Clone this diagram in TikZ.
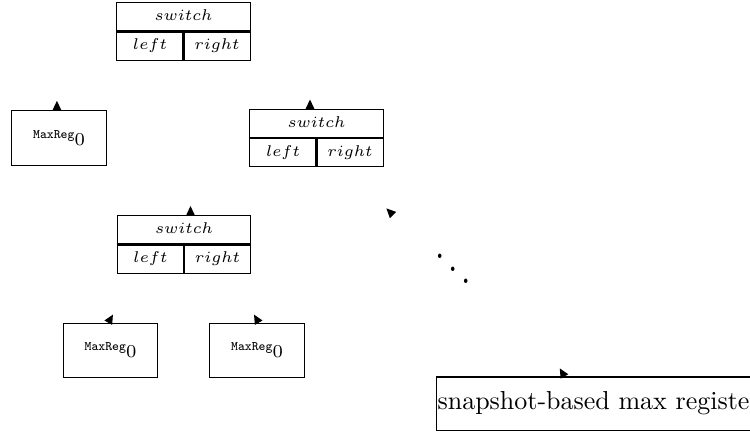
\documentclass[tikz,border=0pt]{standalone}
\usepackage{amsmath}
\usetikzlibrary{shapes.multipart, calc}

% top cell and the two bottom cells of a switch
\newcommand{\swparts}{$switch$\strut\nodepart{two}\makebox[25.75pt]{$left$}\makebox[25.75pt]{$right$}\strut}
\newcommand{\maxreg}{{\tiny\texttt{MaxReg}}\raisebox{-2.6pt}{\scriptsize 0}}

\begin{document}
\begin{tikzpicture}[x=0.3846pt, y=0.3846pt,
		swnode/.style={rectangle split, rectangle split parts=2, draw, font=\fontsize{6}{7.2}\selectfont,
			text width=51.5pt, align=center, inner xsep=0pt, inner ysep=1.7pt},
		regnode/.style={draw, minimum width=36.5pt, minimum height=21pt, inner sep=0pt},
		divide/.style={line width=0.8pt}]
			\useasboundingbox (0,-432) rectangle (750,0);
			\node[swnode] (s0) at (183.5,-31.5) {\swparts};
			\node[regnode] (r0) at (59,-138) {\maxreg};
			\node[swnode] (s1) at (316.5,-138) {\swparts};
			\coordinate (s1r) at (393,-215);
			\node[swnode] (s2) at (184,-244.5) {\swparts};
			\node[regnode] (r1) at (110.5,-350.5) {\maxreg};
			\node[regnode] (r2) at (257,-350.5) {\maxreg};
			\node[xscale=1.3, yscale=1.6, anchor=base] (dots) at (453,-288) {$\ddots$};
			\node[draw, anchor=west, minimum height=20.4pt, inner xsep=0.4pt] (snap) at (436,-403.5) {snapshot-based max register};
			% cell borders inside the switches
			\draw[divide] (s0.text split west) -- (s0.text split east);
			\draw[divide] (s0.text split) -- (s0.south);
			\draw[divide] (s1.text split west) -- (s1.text split east);
			\draw[divide] (s1.text split) -- (s1.south);
			\draw[divide] (s2.text split west) -- (s2.text split east);
			\draw[divide] (s2.text split) -- (s2.south);
			% arrow heads sitting on the children
			\coordinate (h0) at ([xshift=-0.8pt]r0.north);
			\coordinate (h1) at ([xshift=-2.5pt]s1.north);
			\coordinate (h2) at ([xshift=2.5pt]s2.north);
			\coordinate (h4) at ([xshift=-0.85pt]r1.north);
			\coordinate (h5) at ([xshift=0.65pt]r2.north);
			\coordinate (h6) at ([xshift=49.4pt]snap.north west);
			\fill ($(h0)+(-1.7pt,0)$) -- ($(h0)+(0,3.6pt)$) -- ($(h0)+(1.7pt,0)$) -- cycle;
			\fill ($(h1)+(-1.7pt,0)$) -- ($(h1)+(0,3.6pt)$) -- ($(h1)+(1.7pt,0)$) -- cycle;
			\fill ($(h2)+(-1.7pt,0)$) -- ($(h2)+(0,3.6pt)$) -- ($(h2)+(1.7pt,0)$) -- cycle;
			\fill ($(s1r)+(-1.2pt,-1.2pt)$) -- ($(s1r)+(-2.55pt,2.55pt)$) -- ($(s1r)+(1.2pt,1.2pt)$) -- cycle;
			\fill ($(h4)+(-1.47pt,0.85pt)$) -- ($(h4)+(1.8pt,3.12pt)$) -- ($(h4)+(1.47pt,-0.85pt)$) -- cycle;
			\fill ($(h5)+(-1.47pt,-0.85pt)$) -- ($(h5)+(-1.8pt,3.12pt)$) -- ($(h5)+(1.47pt,0.85pt)$) -- cycle;
			\fill ($(h6)+(-1.47pt,-0.85pt)$) -- ($(h6)+(-1.8pt,3.12pt)$) -- ($(h6)+(1.47pt,0.85pt)$) -- cycle;
		\end{tikzpicture}
\end{document}
